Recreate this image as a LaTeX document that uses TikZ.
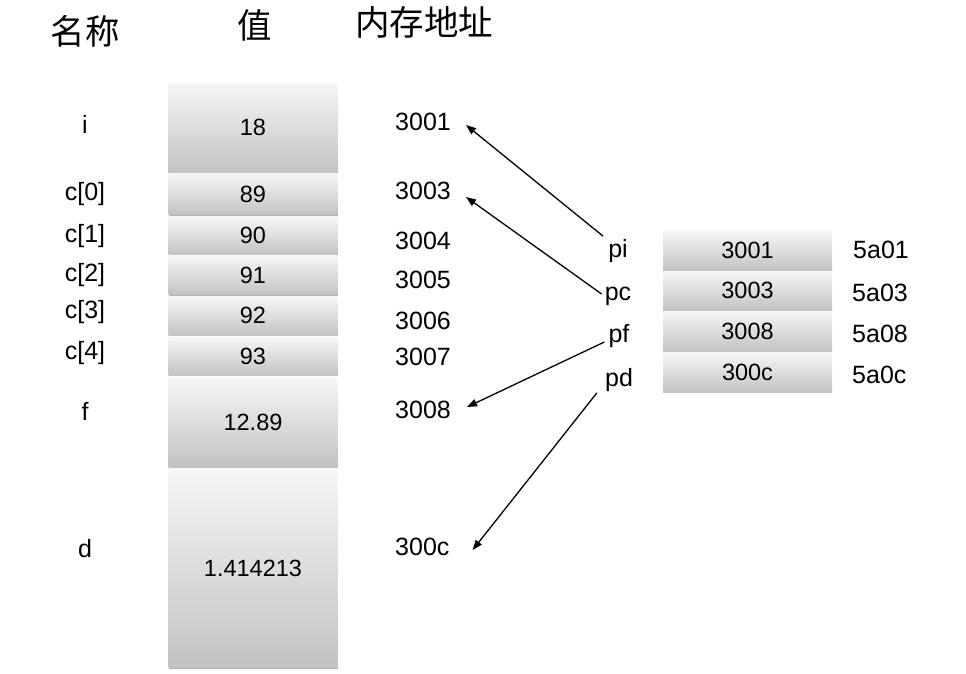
\documentclass[tikz,border=0pt]{standalone}
\usepackage{fontspec}
\setmainfont{Liberation Sans}
\newfontfamily\cjk{Noto Sans CJK SC}
\usetikzlibrary{arrows.meta,shadows}
\definecolor{cellTop}{HTML}{F7F7F7}
\definecolor{cellBot}{HTML}{C3C3C3}
\tikzset{
  cell/.style={draw=none, top color=cellTop, bottom color=cellBot, minimum width=169pt,
    inner sep=0pt, font=\fontsize{23.5}{23.5}\selectfont,
    drop shadow={shadow xshift=0.3pt, shadow yshift=-1.2pt, opacity=0.3, fill=black}},
  namelbl/.style={font=\fontsize{25}{25}\selectfont, inner sep=0pt},
  addrlbl/.style={font=\fontsize{25}{25}\selectfont, inner sep=0pt, anchor=west},
  ptrlbl/.style={font=\fontsize{25}{25}\selectfont, inner sep=3pt},
  header/.style={font=\cjk\fontsize{34.5}{34.5}\selectfont, inner sep=0pt},
  ptr/.style={-{Triangle[length=10pt,width=7.5pt]}, line width=1.3pt, black}
}
\begin{document}
\begin{tikzpicture}[x=1pt,y=-1pt]
\useasboundingbox (0,0) rectangle (966,673);
% headers
\node[header] (h1) at (85,31) {名称};
\node[header] (h2) at (255,25) {值};
\node[header] (h3) at (424,22) {内存地址};
% names
\node[namelbl] (ni) at (85,124) {i};
\node[namelbl] (nc0) at (85,194) {c[0]};
\node[namelbl] (nc1) at (85,236) {c[1]};
\node[namelbl] (nc2) at (85,275) {c[2]};
\node[namelbl] (nc3) at (85,312) {c[3]};
\node[namelbl] (nc4) at (85,353) {c[4]};
\node[namelbl] (nf) at (85,411) {f};
\node[namelbl] (nd) at (85,549) {d};
% value cells
\node[cell, minimum height=89pt] (vi) at (253,127.5) {18};
\node[cell, minimum height=41pt] (vc0) at (253,194) {89};
\node[cell, minimum height=38pt] (vc1) at (253,235.5) {90};
\node[cell, minimum height=39pt] (vc2) at (253,275) {91};
\node[cell, minimum height=39pt] (vc3) at (253,315.5) {92};
\node[cell, minimum height=38pt] (vc4) at (253,356) {93};
\node[cell, minimum height=89pt] (vf) at (253,422.5) {12.89};
\node[cell, minimum height=199pt] (vd) at (253,568) {1.414213};
% addresses
\node[addrlbl] (a3001) at (395,122) {3001};
\node[addrlbl] (a3003) at (395,191) {3003};
\node[addrlbl] (a3004) at (395,241) {3004};
\node[addrlbl] (a3005) at (395,280) {3005};
\node[addrlbl] (a3006) at (395,321) {3006};
\node[addrlbl] (a3007) at (395,357) {3007};
\node[addrlbl] (a3008) at (395,410) {3008};
\node[addrlbl] (a300c) at (395,547) {300c};
% pointer names
\node[ptrlbl] (pi) at (618,251) {pi};
\node[ptrlbl] (pc) at (618,296) {pc};
\node[ptrlbl] (pf) at (619,336) {pf};
\node[ptrlbl] (pd) at (619,380) {pd};
% pointer cells
\node[cell, minimum height=40pt] (ppi) at (747.5,250) {3001};
\node[cell, minimum height=39pt] (ppc) at (747.5,290.5) {3003};
\node[cell, minimum height=40pt] (ppf) at (747.5,331) {3008};
\node[cell, minimum height=40pt] (ppd) at (747.5,372) {300c};
% pointer addresses
\node[addrlbl] (b5a01) at (853,250) {5a01};
\node[addrlbl] (b5a03) at (852,293) {5a03};
\node[addrlbl] (b5a08) at (852,334) {5a08};
\node[addrlbl] (b5a0c) at (852,375) {5a0c};
% arrows
\draw[ptr] ([xshift=-2pt]pi.north west) -- ([xshift=15pt,yshift=-3pt]a3001.east);
\draw[ptr] ([yshift=2pt]pc.west) -- ([xshift=15pt,yshift=-6pt]a3003.east);
\draw[ptr] ([xshift=-1pt,yshift=-6pt]pf.west) -- ([xshift=16pt,yshift=3pt]a3008.east);
\draw[ptr] ([xshift=-5pt,yshift=2pt]pd.south west) -- ([xshift=23pt,yshift=-3pt]a300c.east);
\end{tikzpicture}
\end{document}
